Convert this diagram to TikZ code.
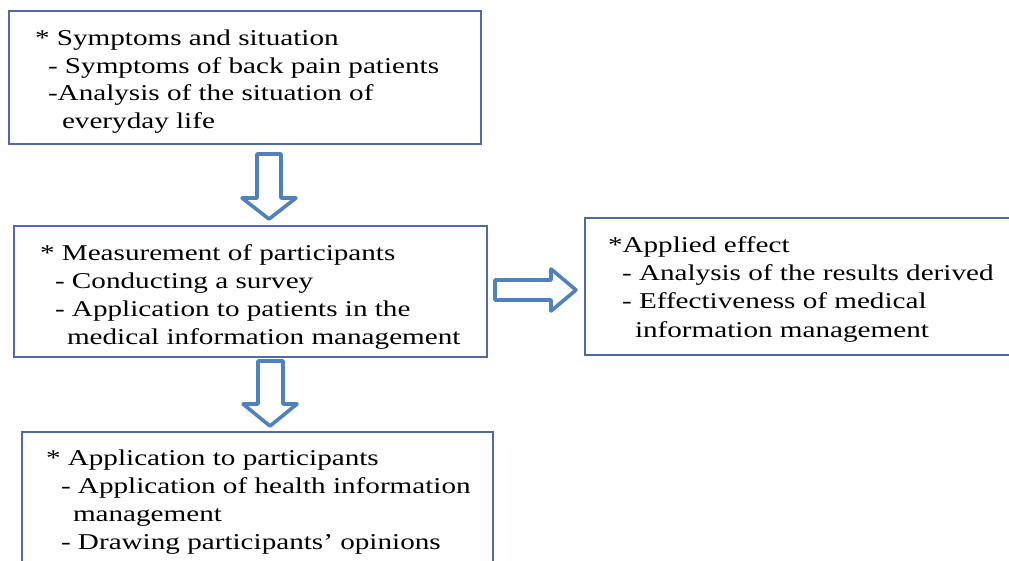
\documentclass[tikz,border=0pt]{standalone}
\usepackage{fontspec}
\setmainfont{Liberation Serif}[FakeStretch=1.29]
\definecolor{boxblue}{HTML}{4F6AA6}
\definecolor{arrblue}{HTML}{4F81BD}
\begin{document}
\begin{tikzpicture}[x=1pt,y=-1pt,
  box/.style={draw=boxblue,line width=2.6pt,fill=white},
  blockarrow/.style={draw=arrblue,line width=3.6pt,line join=round,fill=white},
  txt/.style={anchor=base west,inner sep=0pt,outer sep=0pt,font=\fontsize{22.6}{27}\selectfont}]
\useasboundingbox (0,0) rectangle (1009,560);
\clip (0,0) rectangle (1009,560);
\fill[white] (0,0) rectangle (1009,560);
% boxes
\draw[box] (9,11) rectangle (481,144);
\draw[box] (14,226) rectangle (487,357);
\draw[box] (585,218) rectangle (1014,355);
\draw[box] (22,432) rectangle (493,570);
% box 1 text
\node[txt] (t1a) at (35,45) {* Symptoms and situation};
\node[txt] (t1b) at (48,73) {- Symptoms of back pain patients};
\node[txt] (t1c) at (48,100) {-Analysis of the situation of};
\node[txt] (t1d) at (62,128) {everyday life};
% box 2 text
\node[txt] (t2a) at (40,260) {* Measurement of participants};
\node[txt] (t2b) at (55,288) {- Conducting a survey};
\node[txt] (t2c) at (55,316) {- Application to patients in the};
\node[txt] (t2d) at (67,344) {medical information management};
% box 3 text
\node[txt] (t3a) at (608,252) {*Applied effect};
\node[txt] (t3b) at (622,280) {- Analysis of the results derived};
\node[txt] (t3c) at (622,308) {- Effectiveness of medical};
\node[txt] (t3d) at (635,337) {information management};
% box 4 text
\node[txt] (t4a) at (46,465) {* Application to participants};
\node[txt] (t4b) at (61,493) {- Application of health information};
\node[txt] (t4c) at (73,521) {management};
\node[txt] (t4d) at (61,549) {- Drawing participants{\char"27} opinions};
% block arrows
\draw[blockarrow] (257,154) -- (281,154) -- (281,198) -- (296,198) -- (269,219) -- (242,198) -- (257,198) -- cycle;
\draw[blockarrow] (258,361) -- (283,361) -- (283,404) -- (297,404) -- (270,426) -- (243,404) -- (258,404) -- cycle;
\draw[blockarrow] (495,280) -- (551,280) -- (551,269) -- (576,290) -- (551,311) -- (551,300) -- (495,300) -- cycle;
\end{tikzpicture}
\end{document}
